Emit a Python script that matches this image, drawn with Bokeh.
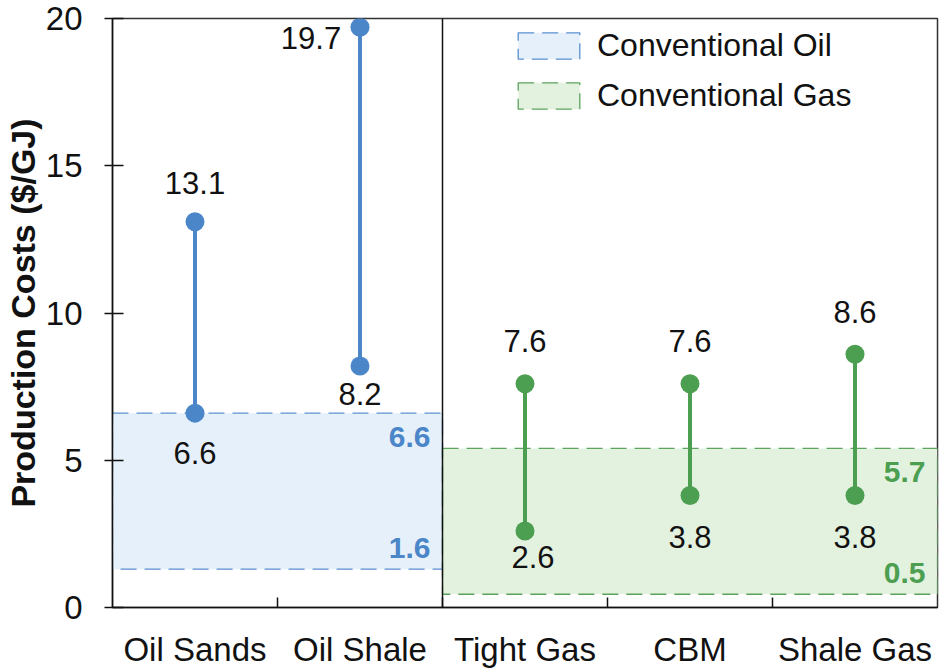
from bokeh.plotting import figure
from bokeh.models import FixedTicker, Span, Legend, LegendItem, ColumnDataSource, Range1d
from bokeh.embed import file_html
from bokeh.resources import INLINE
from bokeh.core.properties import value

# ---- data ----
categories = ["Oil Sands", "Oil Shale", "Tight Gas", "CBM", "Shale Gas"]
low = [6.6, 8.2, 2.6, 3.8, 3.8]
high = [13.1, 19.7, 7.6, 7.6, 8.6]
group = ["oil", "oil", "gas", "gas", "gas"]

band_names = ["Conventional Oil", "Conventional Gas"]
band_groups = ["oil", "gas"]
band_first_cat = [0, 2]          # index of first category covered
band_last_cat = [1, 4]           # index of last category covered
band_low = [1.3, 0.45]
band_high = [6.6, 5.4]
band_low_labels = ["1.6", "0.5"]
band_high_labels = ["6.6", "5.7"]

y_ticks = [0, 5, 10, 15, 20]

# ---- styles ----
FONT = "Liberation Sans"
TXT = "#111111"
dot_col = {"oil": "#4a86c8", "gas": "#4c9e50"}
fill_col = {"oil": "#e6f0fa", "gas": "#e3f1df"}
edge_col = {"oil": "#5b8fd0", "gas": "#5ba45e"}

# label offsets (screen px) for the high / low value labels
hi_dx = [0, -49, 0, 0, 0]
hi_dy = [-39, 11, -43, -43, -42]
lo_dx = [0, 0, 8, 0, 0]
lo_dy = [40, 28, 26, 41, 41]

xs = [i + 0.5 for i in range(len(categories))]
cols = [dot_col[g] for g in group]

p = figure(width=940, height=672, output_backend="svg", toolbar_location=None,
           x_range=Range1d(0, len(categories)), y_range=Range1d(0, 20),
           min_border_left=108, min_border_right=3, min_border_top=18,
           min_border_bottom=65)
p.xgrid.visible = False
p.ygrid.visible = False
p.background_fill_color = "white"
p.border_fill_color = "white"
p.outline_line_color = "#333333"
p.outline_line_width = 1.5

# bands
band_renderers = []
for i, name in enumerate(band_names):
    g = band_groups[i]
    r = p.quad(left=[band_first_cat[i]], right=[band_last_cat[i] + 1],
               bottom=[band_low[i]], top=[band_high[i]],
               fill_color=fill_col[g], line_color=edge_col[g],
               line_width=1.3, line_dash="16 8")
    band_renderers.append(r)

# band value labels
bl_x = [c + 1 for c in band_last_cat]
p.text(x=bl_x, y=band_high, text=band_high_labels, x_offset=-12, y_offset=24,
       text_align="right", text_baseline="middle",
       text_font=value(FONT), text_font_size="30px", text_font_style="bold",
       text_color=[dot_col[g] for g in band_groups])
p.text(x=bl_x, y=band_low, text=band_low_labels, x_offset=-12, y_offset=-21,
       text_align="right", text_baseline="middle",
       text_font=value(FONT), text_font_size="30px", text_font_style="bold",
       text_color=[dot_col[g] for g in band_groups])

# separator
p.add_layout(Span(location=2, dimension="height", line_color="#111111", line_width=1.5))

# ranges
p.segment(x0=xs, y0=low, x1=xs, y1=high, line_color=cols, line_width=4)
p.scatter(x=xs + xs, y=low + high, size=19, fill_color=cols + cols, line_color=None)

hi_src = ColumnDataSource(dict(x=xs, y=high, t=[f"{v}" for v in high], dx=hi_dx, dy=hi_dy))
lo_src = ColumnDataSource(dict(x=xs, y=low, t=[f"{v}" for v in low], dx=lo_dx, dy=lo_dy))
for src in (hi_src, lo_src):
    p.text(x="x", y="y", text="t", x_offset="dx", y_offset="dy", source=src,
           text_align="center", text_baseline="middle",
           text_font=value(FONT), text_font_size="31px", text_color=TXT)

# axes
p.xaxis.ticker = FixedTicker(ticks=xs, minor_ticks=list(range(1, len(categories))))
p.xaxis.major_label_overrides = {x: c for x, c in zip(xs, categories)}
p.xaxis.major_tick_line_color = None
p.xaxis.minor_tick_in = 10
p.xaxis.minor_tick_out = 0
p.xaxis.minor_tick_line_color = "#111111"
p.xaxis.minor_tick_line_width = 1.5
p.xaxis.axis_line_color = "#111111"
p.xaxis.axis_line_width = 1.5
p.xaxis.major_label_text_font = FONT
p.xaxis.major_label_text_font_size = "33px"
p.xaxis.major_label_text_color = TXT
p.xaxis.major_label_standoff = 17

p.yaxis.ticker = FixedTicker(ticks=y_ticks)
p.yaxis.minor_tick_line_color = None
p.yaxis.major_tick_in = 11
p.yaxis.major_tick_out = 8
p.yaxis.major_tick_line_color = "#111111"
p.yaxis.major_tick_line_width = 1.5
p.yaxis.axis_line_color = "#111111"
p.yaxis.axis_line_width = 1.5
p.yaxis.major_label_text_font = FONT
p.yaxis.major_label_text_font_size = "33px"
p.yaxis.major_label_text_color = TXT
p.yaxis.major_label_standoff = 22
p.yaxis.axis_label = "Production Costs ($/GJ)"
p.yaxis.axis_label_text_font = FONT
p.yaxis.axis_label_text_font_size = "34px"
p.yaxis.axis_label_text_font_style = "bold"
p.yaxis.axis_label_text_color = TXT
p.yaxis.axis_label_standoff = 1

legend = Legend(items=[LegendItem(label=n, renderers=[r]) for n, r in zip(band_names, band_renderers)],
                location=(398, 493), padding=0, margin=0, spacing=13,
                glyph_width=77, glyph_height=33, label_height=33, label_standoff=10,
                label_text_font=FONT, label_text_font_size="32px", label_text_color=TXT,
                border_line_color=None, background_fill_alpha=0)
p.add_layout(legend)

open("out.html", "w").write(file_html(p, INLINE))
